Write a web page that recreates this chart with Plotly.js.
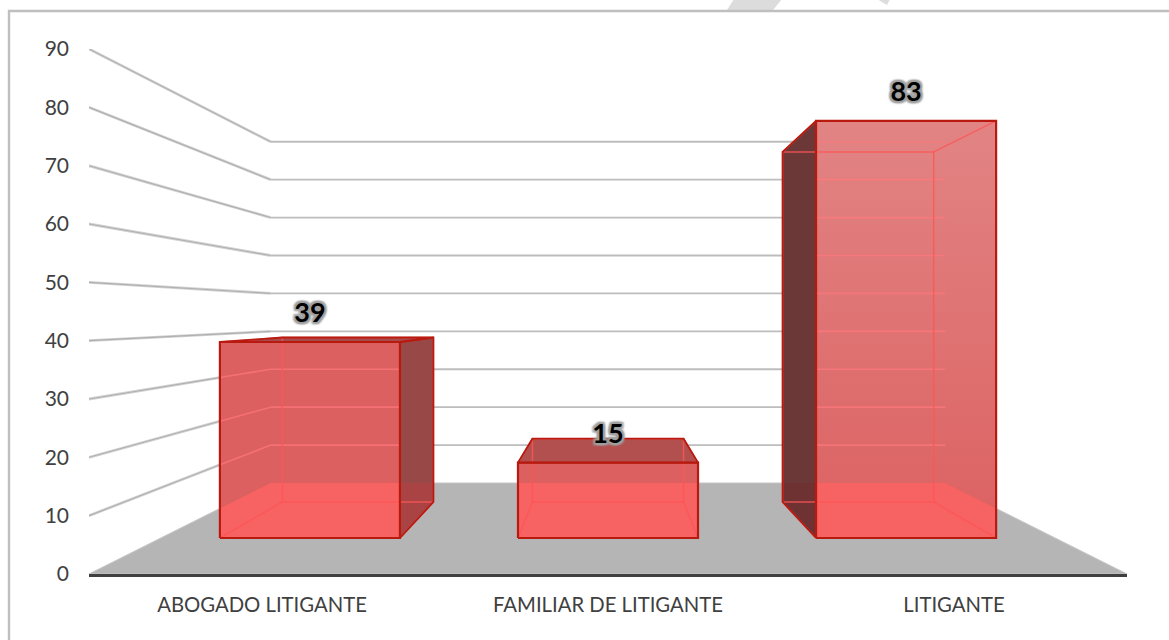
<!DOCTYPE html>
<html>
<head>
<meta charset="utf-8">
<script src="https://cdn.plot.ly/plotly-3.0.1.min.js"></script>
<style>html,body{margin:0;padding:0;background:#fff;overflow:hidden}#chart{width:1169px;height:640px}</style>
</head>
<body>
<div id="chart"></div>
<script>
// ---- data ----
var categories = ["ABOGADO LITIGANTE", "FAMILIAR DE LITIGANTE", "LITIGANTE"];
var values = [39, 15, 83];
var axisTicks = [0, 10, 20, 30, 40, 50, 60, 70, 80, 90];

// ---- per-bar colours ----
var frontTop    = ["rgb(221,96,97)", "rgb(221,96,97)", "rgb(226,132,132)"];
var frontBottom = ["rgb(221,96,97)", "rgb(221,96,97)", "rgb(220,97,97)"];
var sideFill      = ["rgb(153,72,72)", "rgb(153,72,72)", "rgb(108,55,55)"];
var sideOverFloor = ["rgb(170,68,68)", "rgb(170,68,68)", "rgb(110,50,50)"];
var topFill = ["rgb(167,75,75)", "rgb(178,80,80)", "rgb(167,75,75)"];

// ---- fake-3D camera, in axis units ----
var V0 = 44.57;              // height of the vanishing point
var BACK = 0.65, BAR_FRONT = 0.8615, BAR_BACK = 0.723;   // perspective scale of each depth
var HALF = 0.302, WALL = 1.5;
function P(xw, v, s) { return [1 + xw * s, V0 + (v - V0) * s]; }

var EDGE = "#b81a10", HIDDEN = "rgba(255,85,85,0.8)", GRIDTHRU = "rgba(255,120,125,0.7)";
var traces = [];
function line(pts, color, width) {
  traces.push({type: "scatter", mode: "lines", x: pts.map(function(p){return p[0];}), y: pts.map(function(p){return p[1];}),
    line: {color: color, width: width, simplify: false}, hoverinfo: "skip", showlegend: false, cliponaxis: false});
}
function poly(pts, fill, edge, width, gradient) {
  var c = pts.concat([pts[0]]);
  var t = {type: "scatter", mode: "lines", x: c.map(function(p){return p[0];}), y: c.map(function(p){return p[1];}),
    fill: "toself", fillcolor: fill, line: {color: edge || "rgba(0,0,0,0)", width: edge ? width : 0, simplify: false},
    hoverinfo: "skip", showlegend: false, cliponaxis: false};
  if (gradient) t.fillgradient = {type: "vertical", colorscale: [[0, gradient[1]], [1, gradient[0]]]};
  traces.push(t);
}
// convex polygon clipping (Sutherland-Hodgman)
function clipPoly(subject, clipper) {
  var area = 0, out = subject;
  clipper.forEach(function(p, i){ var q = clipper[(i+1)%clipper.length]; area += p[0]*q[1]-q[0]*p[1]; });
  var sgn = area > 0 ? 1 : -1;
  clipper.forEach(function(a, i){
    var b = clipper[(i+1)%clipper.length], inp = out; out = [];
    function side(p){ return sgn*((b[0]-a[0])*(p[1]-a[1])-(b[1]-a[1])*(p[0]-a[0])); }
    inp.forEach(function(p, j){
      var q = inp[(j+1)%inp.length], sp = side(p), sq = side(q);
      if (sp >= 0) out.push(p);
      if (sp*sq < 0) { var t = sp/(sp-sq); out.push([p[0]+t*(q[0]-p[0]), p[1]+t*(q[1]-p[1])]); }
    });
  });
  return out;
}
// segment clipping against an axis-aligned box
function clipSeg(a, b, x0, x1, y0, y1) {
  var t0 = 0, t1 = 1, dx = b[0]-a[0], dy = b[1]-a[1];
  var tests = [[-dx, a[0]-x0], [dx, x1-a[0]], [-dy, a[1]-y0], [dy, y1-a[1]]];
  for (var i = 0; i < 4; i++) {
    var p = tests[i][0], q = tests[i][1];
    if (p === 0) { if (q < 0) return null; continue; }
    var r = q/p;
    if (p < 0) { if (r > t1) return null; if (r > t0) t0 = r; }
    else { if (r < t0) return null; if (r < t1) t1 = r; }
  }
  return [[a[0]+t0*dx, a[1]+t0*dy], [a[0]+t1*dx, a[1]+t1*dy]];
}

// ---- walls ----
var gridSegs = [];
axisTicks.forEach(function(v){
  if (v === 0) return;
  var a = P(-WALL, v, 1), b = P(-WALL, v, BACK), c = P(WALL, v, BACK);
  gridSegs.push([a, b], [b, c]);
  line([a, b], "#d2d2d2", 2.8);
  line([a, b], "#b0b0b0", 1.1);
  line([b, c], "#bdbdbd", v === 90 ? 2.2 : 1.8);
});
// ---- floor ----
var floor = [P(-WALL,0,1), P(WALL,0,1), P(WALL,0,BACK), P(-WALL,0,BACK)];
poly(floor, "#b5b5b5", "#c4c4c4", 1);

// ---- bars ----
values.forEach(function(v, i){
  var c = i - 1, l = c - HALF, r = c + HALF;
  var fbl = P(l,0,BAR_FRONT), fbr = P(r,0,BAR_FRONT), ftr = P(r,v,BAR_FRONT), ftl = P(l,v,BAR_FRONT);
  var bbl = P(l,0,BAR_BACK),  bbr = P(r,0,BAR_BACK),  btr = P(r,v,BAR_BACK),  btl = P(l,v,BAR_BACK);
  var front = [fbl, fbr, ftr, ftl];
  var side = null;
  if (Math.abs(c) > HALF) {
    side = c < 0 ? [fbr, bbr, btr, ftr] : [fbl, bbl, btl, ftl];
    poly(side, sideFill[i]);
    var sf = clipPoly(floor, side);
    if (sf.length > 2) poly(sf, sideOverFloor[i]);
  }
  var top = v < V0 ? [ftl, ftr, btr, btl] : null;
  if (top) poly(top, topFill[i]);
  poly(front, frontTop[i], null, 0, frontTop[i] !== frontBottom[i] ? [frontTop[i], frontBottom[i]] : null);
  var ff = clipPoly(floor, front);
  if (ff.length > 2) poly(ff, "rgb(247,98,98)");
  // gridlines seen through the front face
  gridSegs.forEach(function(s){
    var g = clipSeg(s[0], s[1], fbl[0], fbr[0], fbl[1], ftl[1]);
    if (g) line(g, GRIDTHRU, 1.6);
  });
  // hidden edges
  line([bbl, bbr, btr, btl, bbl], HIDDEN, 1.5);
  line([fbl, bbl], HIDDEN, 1.5); line([fbr, bbr], HIDDEN, 1.5);
  line([ftl, btl], HIDDEN, 1.5); line([ftr, btr], HIDDEN, 1.5);
  // visible outlines
  if (side) line(side.concat([side[0]]), EDGE, 1.8);
  if (top) line(top.concat([top[0]]), EDGE, 1.8);
  line(front.concat([front[0]]), EDGE, 2.2);
});

// ---- data labels ----
var LABEL_LIFT = 4.55;
traces.push({type: "scatter", mode: "text",
  x: values.map(function(v,i){ return P(i-1, v, BAR_FRONT)[0]; }),
  y: values.map(function(v,i){ return P(i-1, v, BAR_FRONT)[1] + LABEL_LIFT; }),
  text: values.map(String), textposition: "middle center",
  textfont: {family: "Lato, 'Open Sans', sans-serif", size: 27, color: "#000", weight: 700,
             shadow: "2px 0 2px #a0a0a0, -2px 0 2px #a0a0a0, 0 2px 2px #a0a0a0, 0 -2px 2px #a0a0a0, 2px 2px 2px #a0a0a0, -2px -2px 2px #a0a0a0, 2px -2px 2px #a0a0a0, -2px 2px 2px #a0a0a0"},
  hoverinfo: "skip", showlegend: false, cliponaxis: false});

// ---- frame and watermark, placed in paper units ----
var L = 89, R = 1127, T = 49, B = 574;
function px(x){ return (x - L) / (R - L); }
function py(y){ return (B - y) / (B - T); }
function paperPath(pts){ return pts.map(function(p,i){ return (i ? "L" : "M") + px(p[0]) + "," + py(p[1]); }).join(" ") + " Z"; }
var shapes = [
  {type: "path", xref: "paper", yref: "paper", layer: "below", path: paperPath([[727,10],[734,-1],[782,-1],[773,10]]), fillcolor: "#dcdcdc", line: {width: 0}},
  {type: "path", xref: "paper", yref: "paper", layer: "below", path: paperPath([[877,-1],[887,5],[890,-1]]), fillcolor: "#dcdcdc", line: {width: 0}},
  {type: "rect", xref: "paper", yref: "paper", layer: "below", x0: px(9), x1: px(1180), y0: py(650), y1: py(11), line: {color: "#bfbfbf", width: 2.4}, fillcolor: "rgba(0,0,0,0)"}
];

var layout = {
  width: 1169, height: 640,
  margin: {l: L, r: 1169 - R, t: T, b: 640 - B, pad: 0},
  paper_bgcolor: "#ffffff", plot_bgcolor: "rgba(0,0,0,0)",
  showlegend: false, hovermode: false, shapes: shapes,
  font: {family: "Lato, 'Open Sans', sans-serif", color: "#404040"},
  xaxis: {range: [-0.5, 2.5], tickmode: "array", tickvals: categories.map(function(c,i){return i;}), ticktext: categories,
    showgrid: false, zeroline: false, showline: true, linecolor: "#404040", linewidth: 3, ticks: "", ticklabelstandoff: 11, tickangle: 0,
    tickfont: {family: "Lato, sans-serif", size: 20.3, color: "#404040"}, fixedrange: true},
  yaxis: {range: [0, 90], tickmode: "array", tickvals: axisTicks, ticktext: axisTicks.map(String),
    showgrid: false, zeroline: false, showline: false, ticks: "", ticklabelstandoff: 19,
    tickfont: {family: "Lato, sans-serif", size: 21, color: "#404040"}, fixedrange: true}
};
Plotly.newPlot("chart", traces, layout, {displayModeBar: false, staticPlot: true});
</script>
</body>
</html>
